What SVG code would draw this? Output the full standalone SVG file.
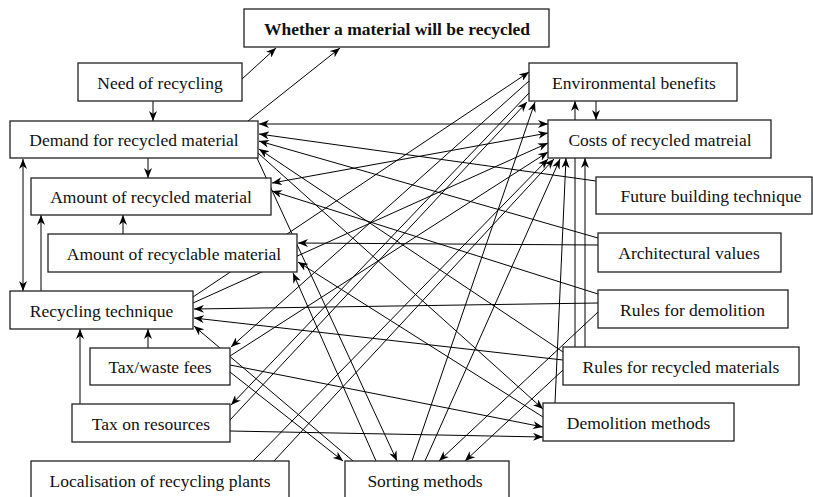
<svg xmlns="http://www.w3.org/2000/svg" width="813" height="497" viewBox="0 0 813 497">
<defs>
<marker id="ah" viewBox="0 0 10 8" markerWidth="10" markerHeight="8" refX="10" refY="4" orient="auto-start-reverse" markerUnits="userSpaceOnUse">
<path d="M0,0 L10,4 L0,8 L3,4 z" fill="#000"/>
</marker>
<style>
.box{fill:#fff;stroke:#222;stroke-width:1.3}
.t{font-family:"Liberation Serif","Times New Roman",serif;font-size:17.5px;fill:#111;text-anchor:middle}
.b{font-weight:bold}
.c line,.c path{stroke:#000;stroke-width:1;fill:none;marker-end:url(#ah)}
.c .d{marker-start:url(#ah)}
</style>
</defs>
<rect width="813" height="497" fill="#fff"/>
<g id="connectors" class="c">
<line x1="242" y1="79" x2="276" y2="48"/>
<line x1="248" y1="121" x2="340" y2="48"/>
<line x1="153" y1="101" x2="153" y2="121"/>
<line x1="148" y1="158" x2="148" y2="178"/>
<line x1="123" y1="234" x2="123" y2="215"/>
<line x1="41" y1="291" x2="41" y2="215"/>
<line class="d" x1="23" y1="159" x2="23" y2="291"/>
<line x1="148" y1="348" x2="148" y2="329"/>
<line x1="80" y1="404" x2="80" y2="329"/>
<line x1="596" y1="101" x2="596" y2="120"/>
<line x1="575" y1="347" x2="575" y2="101"/>
<line x1="585" y1="347" x2="585" y2="158"/>
<line x1="555" y1="403" x2="566" y2="158"/>
<line class="d" x1="259" y1="124" x2="548" y2="124"/>
<line class="d" x1="272" y1="183" x2="548" y2="133"/>
<line x1="596" y1="181" x2="259" y2="134"/>
<line x1="598" y1="238" x2="259" y2="141"/>
<line x1="563" y1="352" x2="259" y2="149"/>
<line x1="257" y1="158" x2="397" y2="461"/>
<line x1="258" y1="153" x2="543" y2="409"/>
<line x1="598" y1="245" x2="298" y2="243"/>
<line x1="598" y1="294" x2="272" y2="191"/>
<line x1="598" y1="303" x2="194" y2="309"/>
<line x1="563" y1="360" x2="194" y2="318"/>
<line x1="598" y1="312" x2="439" y2="461"/>
<line x1="563" y1="370" x2="465" y2="461"/>
<line x1="543" y1="417" x2="298" y2="262"/>
<line x1="376" y1="461" x2="293" y2="273"/>
<line x1="353" y1="461" x2="194" y2="326"/>
<line x1="230" y1="372" x2="343" y2="461"/>
<line x1="230" y1="365" x2="543" y2="427"/>
<line x1="230" y1="431" x2="543" y2="437"/>
<line x1="230" y1="356" x2="548" y2="152"/>
<line x1="230" y1="420" x2="527" y2="102"/>
<line x1="529" y1="81" x2="231" y2="347"/>
<line x1="529" y1="93" x2="231" y2="405"/>
<line x1="193" y1="297" x2="529" y2="72"/>
<line x1="193" y1="303" x2="548" y2="143"/>
<line x1="253" y1="461" x2="548" y2="159"/>
<line x1="274" y1="461" x2="554" y2="159"/>
<line x1="412" y1="461" x2="535" y2="102"/>
<line x1="425" y1="461" x2="560" y2="159"/>
</g>
<g id="n-whether"><rect class="box" x="244" y="9" width="305" height="38"/><text class="t b" x="397" y="34.5">Whether a material will be recycled</text></g>
<g id="n-need"><rect class="box" x="78" y="63" width="164" height="38"/><text class="t" x="160" y="88.5">Need of recycling</text></g>
<g id="n-demand"><rect class="box" x="10" y="121" width="248" height="37"/><text class="t" x="134" y="146">Demand for recycled material</text></g>
<g id="n-amount-recycled"><rect class="box" x="31" y="178" width="240" height="37"/><text class="t" x="151" y="203">Amount of recycled material</text></g>
<g id="n-amount-recyclable"><rect class="box" x="48" y="234" width="249" height="38"/><text class="t" x="174" y="259.5">Amount of recyclable material</text></g>
<g id="n-recycling-technique"><rect class="box" x="10" y="291" width="183" height="38"/><text class="t" x="101.5" y="316.5">Recycling technique</text></g>
<g id="n-tax-waste"><rect class="box" x="90" y="348" width="140" height="37"/><text class="t" x="160" y="373">Tax/waste fees</text></g>
<g id="n-tax-resources"><rect class="box" x="72" y="404" width="158" height="38"/><text class="t" x="151" y="429.5">Tax on resources</text></g>
<g id="n-localisation"><rect class="box" x="31" y="461" width="258" height="50"/><text class="t" x="160" y="486.5">Localisation of recycling plants</text></g>
<g id="n-sorting"><rect class="box" x="345" y="461" width="164" height="50"/><text class="t" x="425" y="486.5">Sorting methods</text></g>
<g id="n-env"><rect class="box" x="529" y="63" width="208" height="38"/><text class="t" x="634" y="88.5">Environmental benefits</text></g>
<g id="n-costs"><rect class="box" x="548" y="120" width="223" height="38"/><text class="t" x="660" y="145.5">Costs of recycled matreial</text></g>
<g id="n-future"><rect class="box" x="596" y="177" width="216" height="37"/><text class="t" x="711" y="202">Future building technique</text></g>
<g id="n-arch"><rect class="box" x="598" y="233" width="183" height="39"/><text class="t" x="689" y="259">Architectural values</text></g>
<g id="n-rules-demolition"><rect class="box" x="598" y="290" width="190" height="38"/><text class="t" x="692.5" y="315.5">Rules for demolition</text></g>
<g id="n-rules-recycled"><rect class="box" x="563" y="347" width="236" height="38"/><text class="t" x="681" y="372.5">Rules for recycled materials</text></g>
<g id="n-demolition-methods"><rect class="box" x="543" y="403" width="191" height="38"/><text class="t" x="638.5" y="428.5">Demolition methods</text></g>
</svg>
